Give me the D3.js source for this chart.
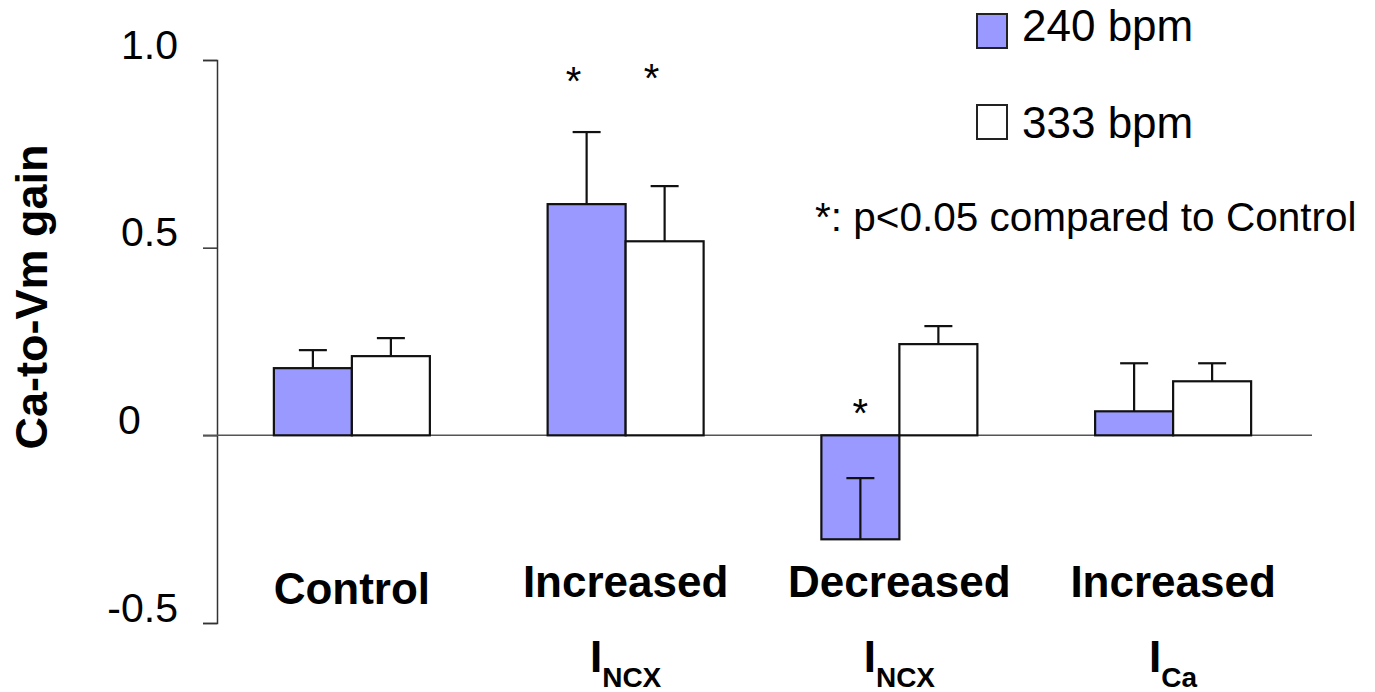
<!DOCTYPE html>
<html>
<head>
<meta charset="utf-8">
<script src="https://cdn.jsdelivr.net/npm/d3@7"></script>
<style>
  body { margin: 0; background: #fff; }
  svg { font-family: Arial, "Liberation Sans", sans-serif; }
</style>
</head>
<body>
<div id="chart"></div>
<script>
// values
const categories = ['Control', 'Increased INCX', 'Decreased INCX', 'Increased ICa']
const catLabels = ['Control', 'Increased', 'Decreased', 'Increased']
const catSubs = [null, ['I', 'NCX'], ['I', 'NCX'], ['I', 'Ca']]
const series = ['240 bpm', '333 bpm']
const gain240 = [0.179, 0.616, -0.277, 0.064]
const err240 = [0.048, 0.192, 0.163, 0.128]
const gain333 = [0.211, 0.517, 0.243, 0.144]
const err333 = [0.048, 0.147, 0.048, 0.048]
const yTicks = [-0.5, 0, 0.5, 1.0]
const yTickLabels = ['-0.5', '0', '0.5', '1.0']
const stars = [
    { cat: 'Increased INCX', s: '240 bpm', y: 0.965 },
    { cat: 'Increased INCX', s: '333 bpm', y: 0.973 },
    { cat: 'Decreased INCX', s: '240 bpm', y: 0.08 }
]
const note = '*: p<0.05 compared to Control'

const width = 1375
const height = 692
const colors = { '240 bpm': '#9999ff', '333 bpm': '#ffffff' }

const svg = d3.select('#chart').append('svg')
    .attr('width', width)
    .attr('height', height)

const rows = []
categories.forEach((c, i) => {
    rows.push({ cat: c, s: series[0], v: gain240[i], e: err240[i] })
    rows.push({ cat: c, s: series[1], v: gain333[i], e: err333[i] })
})

const x0 = d3.scaleBand().domain(categories).range([215, 1310])
const bw = 156
const x1 = d3.scaleBand().domain(series)
    .range([x0.bandwidth() / 2 - bw / 2, x0.bandwidth() / 2 + bw / 2])
const y = d3.scaleLinear().domain([-0.5, 1.0]).range([623, 60])

// y axis
const yAxis = d3.axisLeft(y)
    .tickValues(yTicks)
    .tickSize(14)
    .tickSizeOuter(14)
    .tickFormat((d, i) => yTickLabels[i])

const ax = svg.append('g')
    .attr('transform', 'translate(217,0)')
    .call(yAxis)
ax.select('.domain').attr('stroke', '#333').attr('stroke-width', 1.5)
ax.selectAll('.tick line').attr('stroke', '#333').attr('stroke-width', 1.5)
ax.selectAll('.tick text')
    .attr('x', -39)
    .attr('dy', -2)
    .style('font-size', '41px')
    .attr('fill', '#000')
ax.selectAll('.tick text')
    .filter(d => d === 0)
    .attr('text-anchor', 'start')
    .attr('x', -99)

// zero line
svg.append('line')
    .attr('x1', 203).attr('x2', 1312)
    .attr('y1', y(0)).attr('y2', y(0))
    .attr('stroke', '#555').attr('stroke-width', 1.5)

// bars
const bars = svg.append('g')
bars.selectAll('rect')
    .data(rows)
    .enter()
    .append('rect')
    .attr('x', d => x0(d.cat) + x1(d.s))
    .attr('width', x1.bandwidth())
    .attr('y', d => y(Math.max(0, d.v)))
    .attr('height', d => Math.abs(y(d.v) - y(0)))
    .attr('fill', d => colors[d.s])
    .attr('stroke', '#111')
    .attr('stroke-width', 2.2)

// error bars
const errG = svg.append('g')
    .attr('stroke', '#111')
    .attr('stroke-width', 2.2)
rows.forEach(d => {
    const cx = x0(d.cat) + x1(d.s) + x1.bandwidth() / 2
    errG.append('line')
        .attr('x1', cx).attr('x2', cx)
        .attr('y1', y(d.v)).attr('y2', y(d.v + d.e))
    errG.append('line')
        .attr('x1', cx - 14).attr('x2', cx + 14)
        .attr('y1', y(d.v + d.e)).attr('y2', y(d.v + d.e))
})

// significance stars
svg.append('g').selectAll('text')
    .data(stars)
    .enter()
    .append('text')
    .attr('x', d => x0(d.cat) + x1(d.s) + x1.bandwidth() / 2 - (d.y > 0.5 ? 13 : 0))
    .attr('y', d => y(d.y) + 22)
    .attr('text-anchor', 'middle')
    .style('font-size', '40px')
    .text('*')

// category labels
const labG = svg.append('g')
categories.forEach((c, i) => {
    const cx = x0(c) + x0.bandwidth() / 2
    labG.append('text')
        .attr('x', cx)
        .attr('y', catSubs[i] ? 597 : 604)
        .attr('text-anchor', 'middle')
        .style('font-size', '44px')
        .style('font-weight', 'bold')
        .text(catLabels[i])
    if (catSubs[i]) {
        const t = labG.append('text')
            .attr('x', cx)
            .attr('y', 672)
            .attr('text-anchor', 'middle')
            .style('font-weight', 'bold')
        t.append('tspan').style('font-size', '44px').text(catSubs[i][0])
        t.append('tspan').style('font-size', '28px').attr('dy', 15).text(catSubs[i][1])
    }
})

// y label
svg.append('text')
    .attr('transform', 'translate(47,297) rotate(-90)')
    .attr('text-anchor', 'middle')
    .style('font-size', '45px')
    .style('font-weight', 'bold')
    .text('Ca-to-Vm gain')

// legend
const leg = svg.append('g')
series.forEach((s, i) => {
    leg.append('rect')
        .attr('x', 977).attr('y', 14 + i * 91)
        .attr('width', 30).attr('height', 34)
        .attr('fill', colors[s])
        .attr('stroke', '#222').attr('stroke-width', 2)
    leg.append('text')
        .attr('x', 1022).attr('y', 41 + i * 97)
        .style('font-size', '44px')
        .text(s)
})

svg.append('text')
    .attr('x', 815).attr('y', 231)
    .style('font-size', '40.5px')
    .text(note)
</script>
</body>
</html>
